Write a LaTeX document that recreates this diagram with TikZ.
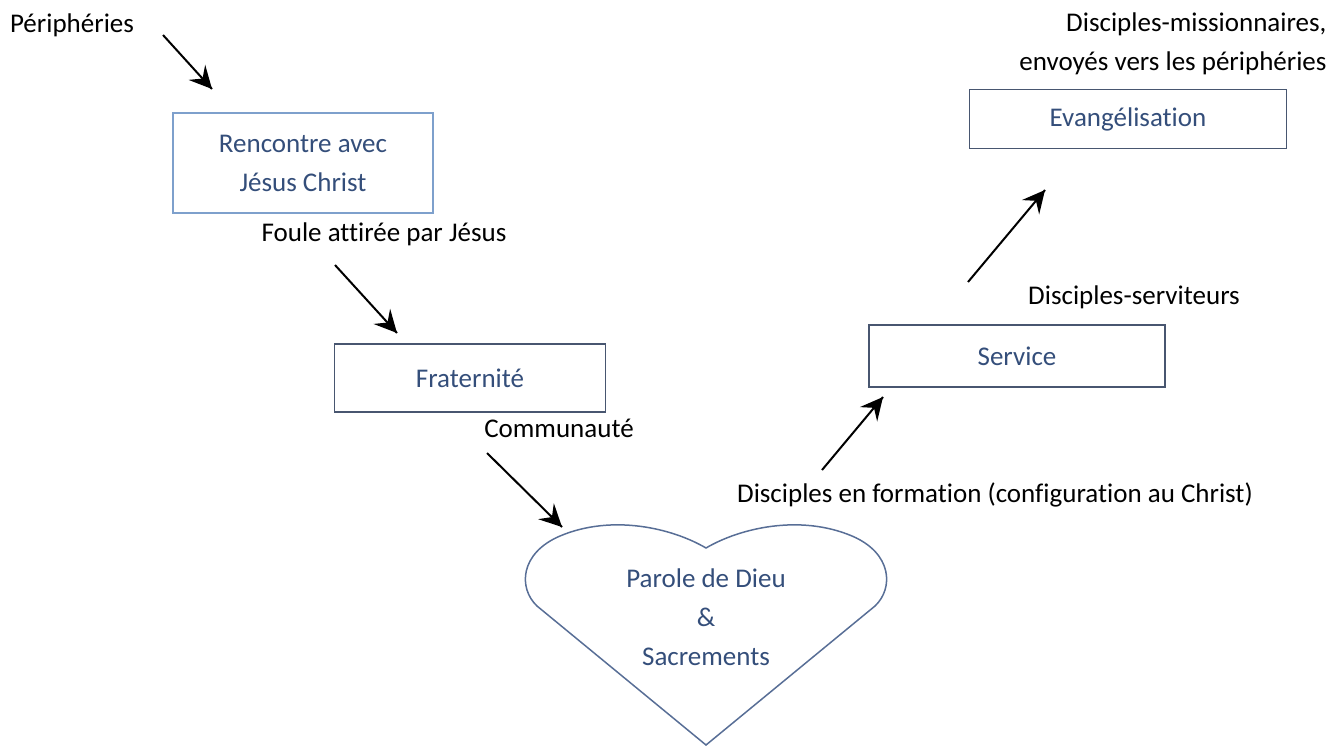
\documentclass[tikz,border=0pt]{standalone}
\usepackage{fontspec}
\setmainfont{Carlito}[Ligatures=CommonOff]
\usepackage{tikz}
\usetikzlibrary{calc}
\usetikzlibrary{arrows,decorations.markings}

\definecolor{boxtext}{RGB}{52,78,122}
\definecolor{boxline}{RGB}{72,86,112}
\definecolor{lightline}{RGB}{126,160,204}
\definecolor{heartline}{RGB}{88,110,150}

\begin{document}
\begin{tikzpicture}[x=1pt,y=-1pt,
	every node/.style={font=\fontsize{27}{39}\selectfont},
	etape/.style={draw=boxline, line width=1.5pt, text=boxtext, align=center, inner sep=0pt},
	fleche/.style={line width=2pt, black, decoration={markings,mark=at position 1 with {\arrow[scale=3.2,>=stealth]{>}}},postaction={decorate}}]
			\useasboundingbox (0,0) rectangle (1341,745);

			\node (peri) at (72,25) {Périphéries};

			\node[etape, draw=lightline, minimum width=260pt, minimum height=100pt] (rencontre) at (303,163) {Rencontre avec\\Jésus Christ};
			\node (foule) at (384,234) {Foule attirée par Jésus};

			\node[etape, minimum width=271pt, minimum height=68pt] (frat) at (470,378) {Fraternité};
			\node (commu) at (559,428) {Communauté};

			% coeur
			\coordinate (pointe) at (706,745);
			\draw[heartline, line width=1.5pt] (pointe) -- (537,606) .. controls (518,588) and (520,553) .. (560,536) .. controls (612,514) and (672,528) .. (706,548) .. controls (740,528) and (800,514) .. (852,536) .. controls (892,553) and (894,588) .. (875,606) -- cycle;
			\node[text=boxtext, align=center] (coeur) at (706,617) {Parole de Dieu\\\&\\Sacrements};

			\node (formation) at (995,495) {Disciples en formation (configuration au Christ)};

			\node[etape, minimum width=296pt, minimum height=62pt] (service) at (1017,356) {Service};
			\node (serviteurs) at (1134,297) {Disciples-serviteurs};

			\node[etape, minimum width=317pt, minimum height=59pt] (evang) at (1128,119) {Evangélisation};
			\node[align=right, anchor=east] (missio) at (1330,44) {Disciples-missionnaires,\\envoyés vers les périphéries};

			% fleches
			\coordinate (f1a) at (163,35);
			\coordinate (f1b) at (212,89);
			\coordinate (f2a) at (335,265);
			\coordinate (f2b) at (397,333);
			\coordinate (f3a) at (487,453);
			\coordinate (f3b) at (562,527);
			\coordinate (f4a) at (822,470);
			\coordinate (f4b) at (883,397);
			\coordinate (f5a) at (968,282);
			\coordinate (f5b) at (1045,190);

			\draw[fleche] (f1a) -- (f1b);
			\draw[fleche] (f2a) -- (f2b);
			\draw[fleche] (f3a) -- (f3b);
			\draw[fleche] (f4a) -- (f4b);
			\draw[fleche] (f5a) -- (f5b);

		\end{tikzpicture}
\end{document}
